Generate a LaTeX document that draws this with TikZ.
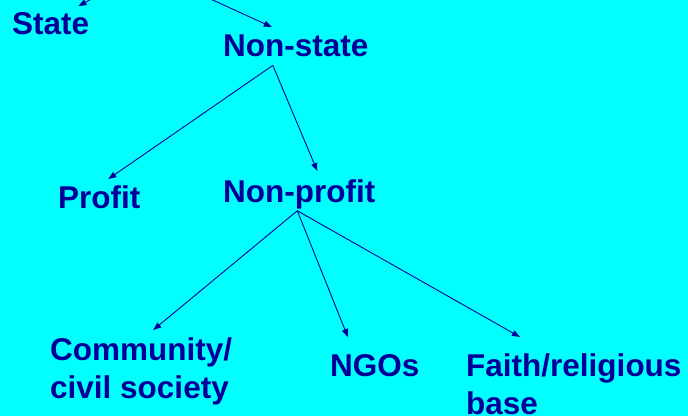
\documentclass[tikz,border=0pt]{standalone}
\usepackage{fontspec}
\setmainfont{Liberation Sans}
\usetikzlibrary{arrows.meta}

\definecolor{ink}{RGB}{0,0,153}
\definecolor{slide}{RGB}{0,255,255}

\begin{document}
\begin{tikzpicture}[x=1pt, y=-1pt,
    lbl/.style={anchor=north west, inner sep=0pt, align=left, text=ink,
                font=\fontsize{31.5}{38}\selectfont\bfseries},
    link/.style={draw=ink, line width=0.9pt, -{Triangle[length=8pt,width=6pt]}}]
      \fill[slide] (0,0) rectangle (688,416);
      \useasboundingbox (0,0) rectangle (688,416);
      \clip (0,0) rectangle (688,416);

      \node[lbl] (S)  at (12,12)   {State};
      \node[lbl] (NS) at (223,35)  {Non-state};
      \node[lbl] (P)  at (58,185)  {Profit};
      \node[lbl] (NP) at (223,179) {Non-profit};
      \node[lbl] (C)  at (50,337)  {Community/\\civil society};
      \node[lbl] (N)  at (330,354) {NGOs};
      \node[lbl] (F)  at (466,353) {Faith/religious\\base};

      % branch points under each parent
      \coordinate (root)   at (147,-30);
      \coordinate (NSfork) at ([xshift=-23pt,yshift=-8pt]NS.south);
      \coordinate (NPfork) at ([xshift=-2pt,yshift=-2pt]NP.south);

      \path (root)   edge[link] ([xshift=-11pt,yshift=6pt]S.north east);
      \path (root)   edge[link] ([xshift=-24pt,yshift=8pt]NS.north);
      \path (NSfork) edge[link] ([xshift=9pt,yshift=6pt]P.north);
      \path (NSfork) edge[link] ([xshift=18pt,yshift=8pt]NP.north);
      \path (NPfork) edge[link] ([xshift=12pt,yshift=7pt]C.north);
      \path (NPfork) edge[link] ([xshift=-27pt,yshift=17pt]N.north);
      \path (NPfork) edge[link] ([xshift=54pt,yshift=16pt]F.north west);
\end{tikzpicture}
\end{document}
